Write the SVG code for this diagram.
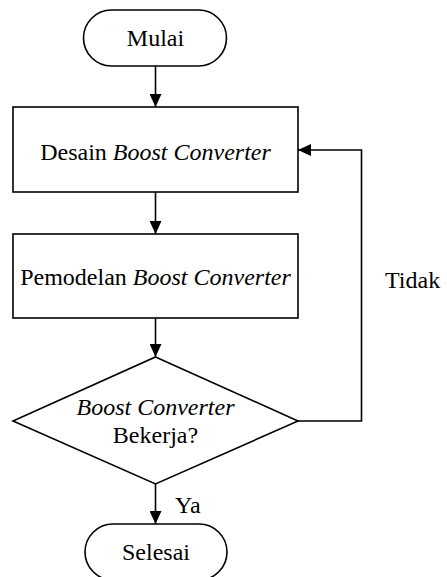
<svg xmlns="http://www.w3.org/2000/svg" width="447" height="577" viewBox="0 0 447 577">
  <style>
    .shape { fill: #ffffff; stroke: #000000; stroke-width: 1.6; }
    .line { fill: none; stroke: #000000; stroke-width: 1.6; }
    text { font-family: "Liberation Serif", "Times New Roman", serif; font-size: 24px; fill: #000000; }
    .c { text-anchor: middle; }
    .it { font-style: italic; }
  </style>
  <defs>
    <marker id="arrow" viewBox="0 0 13 12" refX="13" refY="6" markerWidth="13" markerHeight="12" markerUnits="userSpaceOnUse" orient="auto">
      <path d="M0,0 L13,6 L0,12 Z" fill="#000000"/>
    </marker>
  </defs>
  <rect width="447" height="577" fill="#ffffff"/>

  <!-- connectors -->
  <g id="connectors">
    <line class="line" x1="155.5" y1="66" x2="155.5" y2="107" marker-end="url(#arrow)"/>
    <line class="line" x1="155.5" y1="192" x2="155.5" y2="234" marker-end="url(#arrow)"/>
    <line class="line" x1="155.5" y1="318" x2="155.5" y2="357" marker-end="url(#arrow)"/>
    <line class="line" x1="155.5" y1="484" x2="155.5" y2="524" marker-end="url(#arrow)"/>
    <polyline class="line" points="298,421 361.5,421 361.5,150 298,150" marker-end="url(#arrow)"/>
    <text x="385" y="288">Tidak</text>
    <text x="175" y="513">Ya</text>
  </g>

  <g id="mulai">
    <rect class="shape" x="83.5" y="10" width="143" height="56" rx="28" ry="28"/>
    <text class="c" x="155.5" y="46">Mulai</text>
  </g>

  <g id="desain">
    <rect class="shape" x="13" y="107" width="285" height="85"/>
    <text class="c" x="155.5" y="160">Desain <tspan class="it">Boost Converter</tspan></text>
  </g>

  <g id="pemodelan">
    <rect class="shape" x="13" y="234" width="285" height="84"/>
    <text class="c" x="155.5" y="285">Pemodelan <tspan class="it">Boost Converter</tspan></text>
  </g>

  <g id="keputusan">
    <polygon class="shape" points="155.5,357 298,421 155.5,484 13,421"/>
    <text class="c it" x="155.5" y="415">Boost Converter</text>
    <text class="c" x="155.5" y="443">Bekerja?</text>
  </g>

  <g id="selesai">
    <rect class="shape" x="85" y="524" width="142" height="56" rx="28" ry="28"/>
    <text class="c" x="156" y="560">Selesai</text>
  </g>
</svg>
